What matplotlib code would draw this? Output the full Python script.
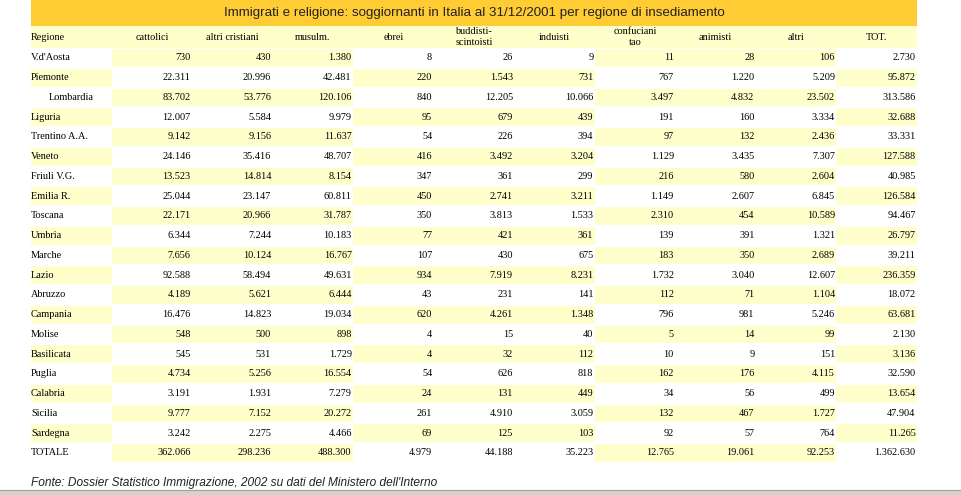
import matplotlib
matplotlib.use("Agg")
import matplotlib.pyplot as plt
from matplotlib.patches import Rectangle

title = "Immigrati e religione: soggiornanti in Italia al 31/12/2001 per regione di insediamento"
fonte = "Fonte: Dossier Statistico Immigrazione, 2002 su dati del Ministero dell'Interno"

headers = ["Regione", "cattolici", "altri cristiani", "musulm.", "ebrei",
           "buddisti-\nscintoisti", "induisti", "confuciani\ntao", "animisti",
           "altri", "TOT."]

regioni = ["V.d'Aosta", "Piemonte", "Lombardia", "Liguria", "Trentino A.A.",
           "Veneto", "Friuli V.G.", "Emilia R.", "Toscana", "Umbria", "Marche",
           "Lazio", "Abruzzo", "Campania", "Molise", "Basilicata", "Puglia",
           "Calabria", "Sicilia", "Sardegna", "TOTALE"]

cattolici = [730, 22311, 83702, 12007, 9142, 24146, 13523, 25044, 22171, 6344,
             7656, 92588, 4189, 16476, 548, 545, 4734, 3191, 9777, 3242, 362066]
altri_cristiani = [430, 20996, 53776, 5584, 9156, 35416, 14814, 23147, 20966,
                   7244, 10124, 58494, 5621, 14823, 500, 531, 5256, 1931, 7152,
                   2275, 298236]
musulmani = [1380, 42481, 120106, 9979, 11637, 48707, 8154, 60811, 31787, 10183,
             16767, 49631, 6444, 19034, 898, 1729, 16554, 7279, 20272, 4466,
             488300]
ebrei = [8, 220, 840, 95, 54, 416, 347, 450, 350, 77, 107, 934, 43, 620, 4, 4,
         54, 24, 261, 69, 4979]
buddisti = [26, 1543, 12205, 679, 226, 3492, 361, 2741, 3813, 421, 430, 7919,
            231, 4261, 15, 32, 626, 131, 4910, 125, 44188]
induisti = [9, 731, 10066, 439, 394, 3204, 299, 3211, 1533, 361, 675, 8231, 141,
            1348, 40, 112, 818, 449, 3059, 103, 35223]
confuciani = [11, 767, 3497, 191, 97, 1129, 216, 1149, 2310, 139, 183, 1732,
              112, 796, 5, 10, 162, 34, 132, 92, 12765]
animisti = [28, 1220, 4832, 160, 132, 3435, 580, 2607, 454, 391, 350, 3040, 71,
            981, 14, 9, 176, 56, 467, 57, 19061]
altri = [106, 5209, 23502, 3334, 2436, 7307, 2604, 6845, 10589, 1321, 2689,
         12607, 1104, 5246, 99, 151, 4115, 499, 1727, 764, 92253]
totale = [2730, 95872, 313586, 32688, 33331, 127588, 40985, 126584, 94467,
          26797, 39211, 236359, 18072, 63681, 2130, 3136, 32590, 13654, 47904,
          11265, 1362630]

columns = [cattolici, altri_cristiani, musulmani, ebrei, buddisti, induisti,
           confuciani, animisti, altri, totale]

# column groups used for the checker shading: Regione | 1-3 | 4-6 | 7-9 | TOT
groups = [0, 1, 1, 1, 2, 2, 2, 3, 3, 3, 4]

ORANGE = "#FFCC33"
PALE = "#FFFFCC"
SERIF = ["Liberation Serif", "DejaVu Serif"]
SANS = ["Liberation Sans", "DejaVu Sans"]
FS = 7.4


def fmt(v):
    # italian thousands separator
    return "{:,}".format(v).replace(",", ".")


W, H = 961, 495
fig = plt.figure(figsize=(W / 100, H / 100), dpi=100)
ax = fig.add_axes([0, 0, 1, 1])
ax.set_xlim(0, W)
ax.set_ylim(H, 0)
ax.axis("off")

left, right = 31, 917
ncol = len(headers)
cw = (right - left) / ncol
edges = [left + i * cw for i in range(ncol + 1)]

# title bar
ax.add_patch(Rectangle((left, 0), right - left, 26, color=ORANGE, lw=0))
ax.text((left + right) / 2, 13, title, ha="center", va="center",
        fontsize=9.6, family=SANS, color="#222222")

# header row
head_top, head_h = 26, 22
ax.add_patch(Rectangle((left, head_top), right - left, head_h, color=PALE, lw=0))
for j, h in enumerate(headers):
    if j == 0:
        ax.text(edges[0], head_top + head_h / 2, h, ha="left", va="center",
                fontsize=FS, family=SERIF)
    else:
        ax.text((edges[j] + edges[j + 1]) / 2, head_top + head_h / 2, h,
                ha="center", va="center", fontsize=FS, family=SERIF,
                linespacing=1.3,
                multialignment="left" if h.startswith("buddisti") else "center")

# body rows
row_top, row_h = 48, 19.75
for i, reg in enumerate(regioni):
    y0 = row_top + i * row_h
    yc = y0 + row_h / 2
    for j in range(ncol):
        if (i + groups[j]) % 2 == 1:
            ax.add_patch(Rectangle((edges[j], y0 + 1), edges[j + 1] - edges[j],
                                   row_h - 2, color=PALE, lw=0))
    if reg == "Lombardia":
        ax.text((edges[0] + edges[1]) / 2, yc, reg, ha="center", va="center",
                fontsize=FS, family=SERIF)
    else:
        ax.text(edges[0], yc, reg, ha="left", va="center",
                fontsize=FS, family=SERIF)
    for j, col in enumerate(columns, start=1):
        ax.text(edges[j + 1] - 1.5, yc, fmt(col[i]), ha="right", va="center",
                fontsize=FS, family=SERIF)

# source line
ax.text(left, 483, fonte, ha="left", va="center", fontsize=8.55,
        family=SANS, style="italic", color="#222222")

# grey strip at the bottom
ax.add_patch(Rectangle((0, 490), W, 5, color="#D6D3CE", lw=0))
ax.plot([0, W], [490, 490], color="#A0A0A0", lw=0.8)

fig.savefig("out.png", dpi=100)
